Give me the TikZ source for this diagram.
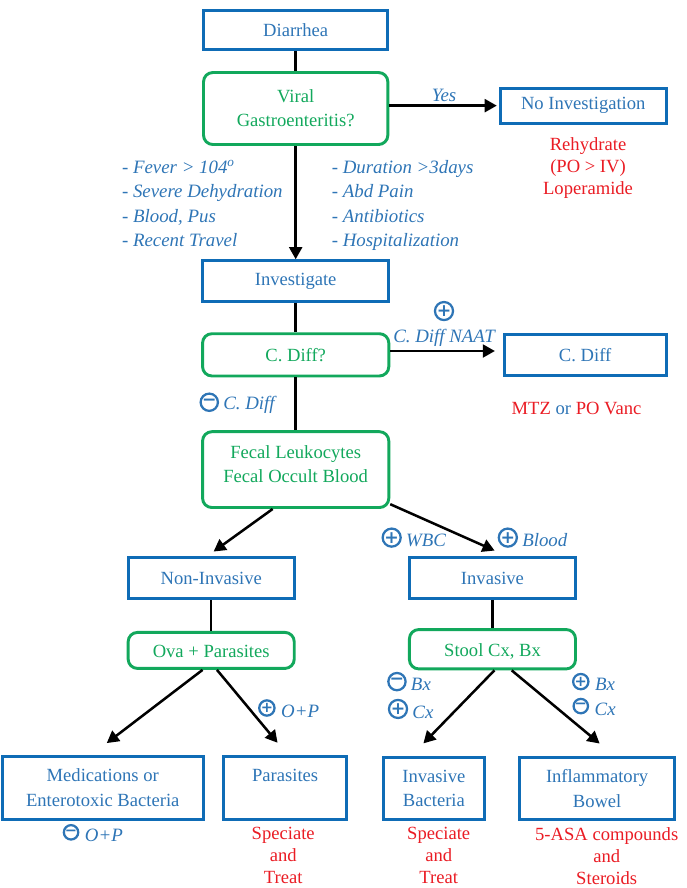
\documentclass[tikz,border=0pt]{standalone}
\usepackage{fontspec}
\setmainfont{Liberation Serif}
\newfontfamily\signfont{DejaVu Sans}
\usetikzlibrary{arrows.meta,positioning}
\definecolor{BoxBlue}{HTML}{0F6CB6}
\definecolor{NoteBlue}{HTML}{2E75B6}
\definecolor{TestGreen}{HTML}{12A85C}
\definecolor{TreatRed}{HTML}{EA1C24}
\begin{document}
\begin{tikzpicture}[
  box/.style={rectangle,draw=BoxBlue,line width=2.2pt,text=NoteBlue,minimum width=1.73in,minimum height=0.43in,align=center,inner sep=1pt,font=\fontsize{14}{18.6}\selectfont},
  test/.style={rectangle,rounded corners=7pt,draw=TestGreen,line width=2.2pt,text=TestGreen,minimum width=1.92in,minimum height=0.43in,align=center,inner sep=1pt,font=\fontsize{14}{18}\selectfont},
  note/.style={text=NoteBlue,align=left,inner sep=1pt,font=\fontsize{14.2}{18.5}\itshape\selectfont},
  signnote/.style={note,yshift=-0.03in},
  treat/.style={text=TreatRed,align=center,inner sep=1pt,font=\fontsize{14}{16.5}\selectfont},
  sign/.style={circle,draw=NoteBlue,line width=1.7pt,text=NoteBlue,minimum size=0.18in,inner sep=0pt,font=\fontsize{13}{13}\signfont\bfseries},
  smallsign/.style={sign,minimum size=0.15in,font=\fontsize{11}{11}\signfont\bfseries},
  link/.style={line width=1.9pt,draw=black},
  arrow/.style={-{Triangle[length=3.2mm,width=3.4mm]},line width=1.9pt,draw=black}]
\useasboundingbox (0,0) rectangle (7.146in,-9.25in);
\node[box,minimum width=1.92in,minimum height=0.41in] (diarrhea) at (3.08in,-0.31in) {Diarrhea};
\node[test,minimum height=0.75in,below=0.21in of diarrhea] (viral) {Viral\\Gastroenteritis?};
\node[box,minimum height=0.365in,right=1.14in of viral,yshift=0.03in] (noinv) {No Investigation};
\node[treat,below=0.12in of noinv,xshift=0.05in] (rehydrate) {Rehydrate\\(PO > IV)\\Loperamide};
\node[box,minimum width=1.94in,minimum height=0.42in,below=1.18in of viral] (investigate) {Investigate};
\node[test,minimum width=1.94in,minimum height=0.44in,below=0.31in of investigate] (cdiffq) {C. Diff?};
\node[box,minimum width=1.69in,right=1.17in of cdiffq] (cdiffbox) {C. Diff};
\node[treat,below=0.25in of cdiffbox,xshift=-0.09in] (vanc) {MTZ \textcolor{NoteBlue}{or} PO Vanc};
\node[test,minimum width=1.94in,minimum height=0.79in,text depth=8pt,below=0.55in of cdiffq] (fecal) {Fecal Leukocytes\\Fecal Occult Blood};
\node[box,below=0.49in of fecal,xshift=-0.88in] (noninv) {Non-Invasive};
\node[box,below=0.49in of fecal,xshift=2.05in] (inv) {Invasive};
\node[test,minimum width=1.73in,minimum height=0.375in,text height=12pt,text depth=1pt,below=0.32in of noninv] (ova) {Ova + Parasites};
\node[test,minimum width=1.73in,minimum height=0.41in,text height=12pt,text depth=1pt,below=0.29in of inv] (stool) {Stool Cx, Bx};
\node[box,minimum width=2.09in,minimum height=0.65in,below=0.89in of ova,xshift=-1.13in] (meds) {Medications or\\Enterotoxic Bacteria};
\node[box,minimum width=1.28in,minimum height=0.65in,below=0.89in of ova,xshift=0.77in] (parasites) {Parasites\\ \mbox{}};
\node[box,minimum width=1.06in,minimum height=0.65in,below=0.89in of stool,xshift=-0.61in] (bacteria) {Invasive\\Bacteria};
\node[box,minimum width=1.61in,minimum height=0.65in,below=0.89in of stool,xshift=1.09in] (bowel) {Inflammatory\\Bowel};
\node[treat,below=0.05in of parasites,xshift=-0.02in] (treatpar) {Speciate\\and\\Treat};
\node[treat,below=0.05in of bacteria,xshift=0.05in] (treatbac) {Speciate\\and\\Treat};
\node[treat,below=0.05in of bowel,xshift=0.10in] (treatbow) {5-ASA compounds\\and\\Steroids};
% lists either side of the long arrow
\node[note,below=0.13in of viral.south west,xshift=-0.85in,anchor=north west] (listleft) {- Fever > 104\textsuperscript{o}\\- Severe Dehydration\\- Blood, Pus\\- Recent Travel};
\node[note,below=0.13in of viral.south,xshift=0.36in,anchor=north west] (listright) {- Duration >3days\\- Abd Pain\\- Antibiotics\\- Hospitalization};
% result marks
\node[sign] (plusnaat) at (4.625in,-3.24in) {+};
\node[note,below=0.07in of plusnaat] (naat) {C. Diff NAAT};
\node[sign] (minusdiff) at (2.18in,-4.19in) {−};
\node[signnote,right=2pt of minusdiff] (difflabel) {C. Diff};
\node[sign] (pluswbc) at (4.08in,-5.60in) {+};
\node[signnote,right=2pt of pluswbc] (wbc) {WBC};
\node[sign] (plusblood) at (5.29in,-5.60in) {+};
\node[signnote,right=2pt of plusblood] (blood) {Blood};
\node[smallsign] (plusop) at (2.78in,-7.375in) {+};
\node[signnote,right=3pt of plusop] (oplabel) {O+P};
\node[smallsign] (minusop) at (0.74in,-8.67in) {−};
\node[signnote,right=3pt of minusop] (negop) {O+P};
\node[sign] (minusbx) at (4.135in,-7.10in) {−};
\node[signnote,right=2pt of minusbx] (bxleft) {Bx};
\node[sign] (pluscx) at (4.146in,-7.385in) {+};
\node[signnote,right=2pt of pluscx] (cxleft) {Cx};
\node[smallsign] (plusbx) at (6.05in,-7.10in) {+};
\node[signnote,right=3pt of plusbx] (bxright) {Bx};
\node[smallsign] (minuscx) at (6.05in,-7.355in) {−};
\node[signnote,right=3pt of minuscx] (cxright) {Cx};
% connectors
\draw[link] (diarrhea) -- (viral);
\draw[arrow] (viral) -- (investigate);
\draw[arrow,shorten >=0.02in] ([yshift=0.03in]viral.east) -- node[note,above=1pt] (yes) {Yes} (noinv.west);
\draw[link] (investigate) -- (cdiffq);
\draw[arrow,shorten >=0.08in] ([yshift=0.04in]cdiffq.east) -- ([yshift=0.04in]cdiffbox.west);
\draw[link] (cdiffq) -- (fecal);
\draw[arrow,shorten >=0.08in] ([xshift=-0.24in]fecal.south) -- ([xshift=-0.04in]noninv.north);
\draw[arrow,shorten >=0.14in] ([yshift=0.05in]fecal.south east) -- ([xshift=0.15in]inv.north);
\draw[link] (noninv) -- (ova);
\draw[link] (inv) -- (stool);
\draw[arrow,shorten >=0.21in] ([xshift=-0.09in]ova.south) -- ([xshift=-0.125in]meds.north);
\draw[arrow,shorten >=0.17in] ([xshift=0.06in]ova.south) -- ([xshift=0.03in]parasites.north);
\draw[arrow,shorten >=0.18in] ([xshift=0.02in]stool.south) -- ([xshift=-0.235in]bacteria.north);
\draw[arrow,shorten >=0.2in] ([xshift=0.2in]stool.south) -- ([xshift=0.18in]bowel.north);
\end{tikzpicture}
\end{document}
